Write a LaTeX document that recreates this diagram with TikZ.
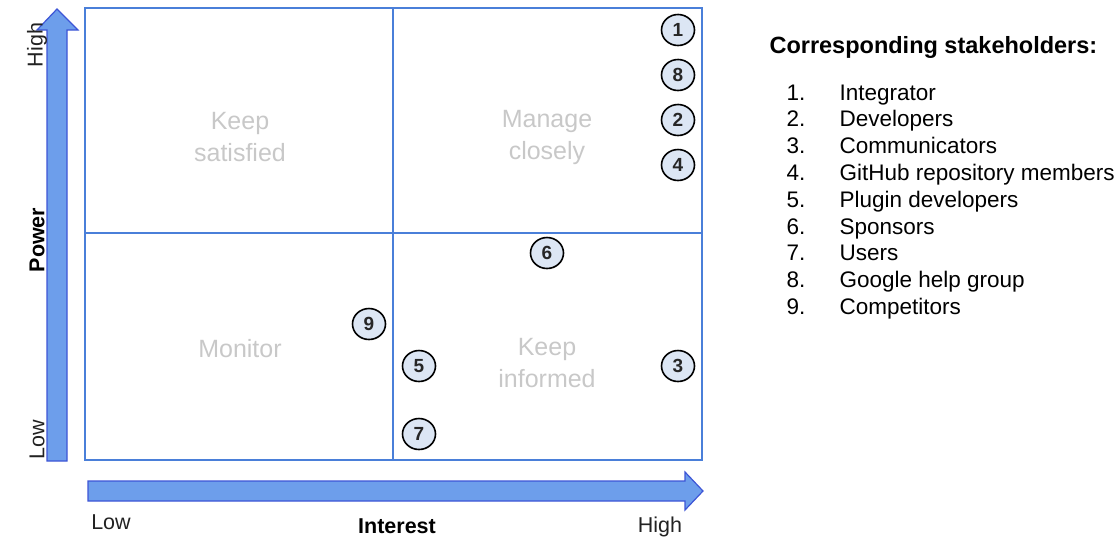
\documentclass[tikz,border=0pt]{standalone}
\usepackage{fontspec}
\setmainfont{Liberation Sans}
\usetikzlibrary{shapes.geometric}
\definecolor{gridblue}{HTML}{4A7FD9}
\definecolor{arrowfill}{HTML}{6D9EEB}
\definecolor{arrowline}{HTML}{3D55D6}
\definecolor{circfill}{HTML}{DCE6F4}
\definecolor{quadtext}{HTML}{C8C8C8}
\definecolor{labtext}{HTML}{222222}
\begin{document}
\begin{tikzpicture}[x=1pt,y=-1pt,
  gridline/.style={draw=gridblue,line width=2.4pt},
  bigarrow/.style={fill=arrowfill,draw=arrowline,line width=1.2pt,line join=miter},
  stake/.style={ellipse,draw=black,line width=1.6pt,fill=circfill,minimum width=33pt,minimum height=31pt,inner sep=0pt,font=\fontsize{19}{19}\selectfont\bfseries,text=black!85},
  quad/.style={align=center,text=quadtext,font=\fontsize{25}{32}\selectfont},
  axlab/.style={text=labtext,font=\fontsize{21.5}{21.5}\selectfont},
  axtitle/.style={text=black,font=\fontsize{21.5}{21.5}\selectfont\bfseries},
  legnum/.style={anchor=base west,font=\fontsize{22.5}{22.5}\selectfont},
  legtxt/.style={anchor=base west,font=\fontsize{22.5}{22.5}\selectfont}]
\useasboundingbox (0,0) rectangle (1118,542);
% axes arrows
\draw[bigarrow] (47,461) -- (47,30) -- (37,30) -- (57,9) -- (78,30) -- (67,30) -- (67,461) -- cycle;
\draw[bigarrow] (88,481) -- (685,481) -- (685,472) -- (703,491) -- (685,510) -- (685,501) -- (88,501) -- cycle;
% grid
\draw[gridline] (85,8) rectangle (702,460);
\draw[gridline] (393,8) -- (393,460);
\draw[gridline] (85,233) -- (702,233);
% quadrant labels
\node[quad] (q1) at (240,137) {Keep\\satisfied};
\node[quad] (q2) at (547,137) {Manage\\closely};
\node[quad] (q3) at (240,349) {Monitor};
\node[quad] (q4) at (547,363) {Keep\\informed};
% axis labels
\node[axlab,rotate=90] (phigh) at (37,45) {High};
\node[axtitle,rotate=90] (power) at (37,240) {Power};
\node[axlab,rotate=90] (plow) at (37,440) {Low};
\node[axlab] (ilow) at (111,522) {Low};
\node[axtitle] (interest) at (397,526) {Interest};
\node[axlab] (ihigh) at (660,527) {High};
% stakeholders
\node[stake] (s1) at (678,30) {1};
\node[stake] (s8) at (678,75) {8};
\node[stake] (s2) at (678,120) {2};
\node[stake] (s4) at (678,165) {4};
\node[stake] (s6) at (547,253) {6};
\node[stake] (s9) at (369,324) {9};
\node[stake] (s5) at (419,366) {5};
\node[stake] (s3) at (678,366) {3};
\node[stake] (s7) at (419,434) {7};
% legend
\node[anchor=base west,font=\fontsize{23.5}{23.5}\selectfont\bfseries] (legtitle) at (766,53) {Corresponding stakeholders:};
\foreach \i/\t [count=\k] in {1/Integrator,2/Developers,3/Communicators,4/GitHub repository members,5/Plugin developers,6/Sponsors,7/Users,8/Google help group,9/Competitors}{
  \node[legnum] (ln\k) at (783,{100+(\k-1)*26.8}) {\i.};
  \node[legtxt] (lt\k) at (836,{100+(\k-1)*26.8}) {\t};
}
\end{tikzpicture}
\end{document}
